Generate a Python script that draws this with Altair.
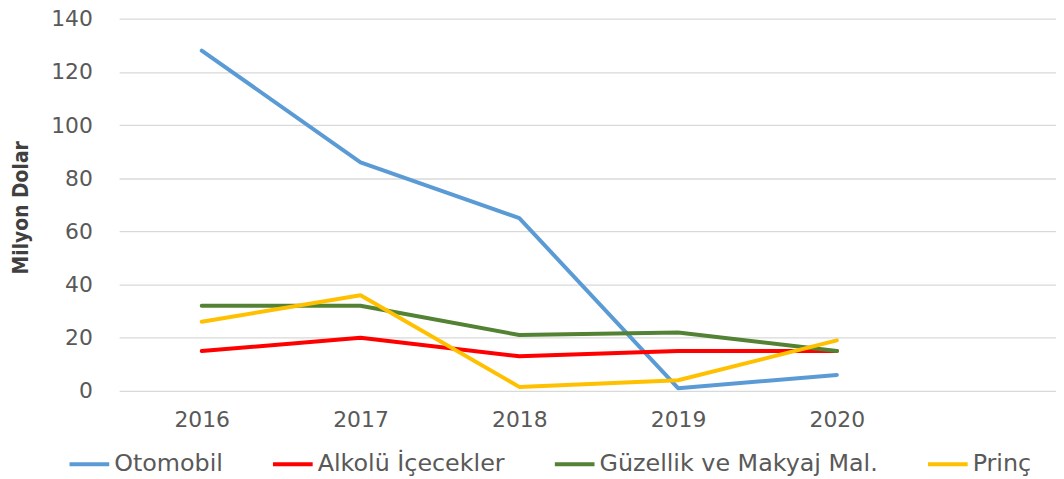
import altair as alt
import pandas as pd

years = [2016, 2017, 2018, 2019, 2020]
series_names = ["Otomobil", "Alkolü İçecekler", "Güzellik ve Makyaj Mal.", "Prinç"]
otomobil = [128, 86, 65, 1, 6]
alkolu = [15, 20, 13, 15, 15]
guzellik = [32, 32, 21, 22, 15]
princ = [26, 36, 1.5, 4, 19]
colors = ["#5B9BD5", "#FF0000", "#548235", "#FFC000"]
y_ticks = [0, 20, 40, 60, 80, 100, 120, 140]

rows = []
for name, vals in zip(series_names, [otomobil, alkolu, guzellik, princ]):
    for yr, v in zip(years, vals):
        rows.append({"Yıl": yr, "Değer": v, "Seri": name})
df = pd.DataFrame(rows)

font = "DejaVu Sans"

chart = alt.Chart(df).mark_line(strokeWidth=4, strokeCap="round", strokeJoin="round").encode(
    x=alt.X("Yıl:Q",
            scale=alt.Scale(domain=[2015.48, 2021.38], nice=False, zero=False),
            axis=alt.Axis(values=years, format="d", grid=False, ticks=False, domain=False,
                          labelPadding=19, labelFontSize=22, labelColor="#595959",
                          labelFont=font, title=None)),
    y=alt.Y("Değer:Q",
            scale=alt.Scale(domain=[0, 140], nice=False),
            axis=alt.Axis(values=y_ticks, grid=True, gridColor="#D9D9D9", gridWidth=1.3,
                          ticks=False, domain=False, labelPadding=27, labelFontSize=22,
                          labelColor="#595959", labelFont=font,
                          title="Milyon Dolar",
                          titleFont="DejaVu Sans Condensed, Liberation Sans, sans-serif",
                          titleFontSize=21, titleFontWeight="bold", titleColor="#404040",
                          titleAngle=270, titleX=-98, titleY=190, titleAlign="center",
                          titleBaseline="middle")),
    color=alt.Color("Seri:N",
                    scale=alt.Scale(domain=series_names, range=colors),
                    sort=series_names,
                    legend=alt.Legend(title=None, orient="none", direction="horizontal",
                                      legendX=-52, legendY=427,
                                      symbolType="stroke", symbolSize=1600,
                                      symbolStrokeWidth=4, labelOffset=3,
                                      labelFontSize=24, labelFont=font,
                                      labelColor="#595959", columnPadding=42,
                                      labelLimit=400)),
).properties(
    width=944, height=375,
    autosize=alt.AutoSizeParams(type="none"),
    padding={"left": 112, "top": 9, "right": 0, "bottom": 90},
).configure_view(stroke=None)

chart.save("out.html", embed_options={"renderer": "svg", "actions": False})
